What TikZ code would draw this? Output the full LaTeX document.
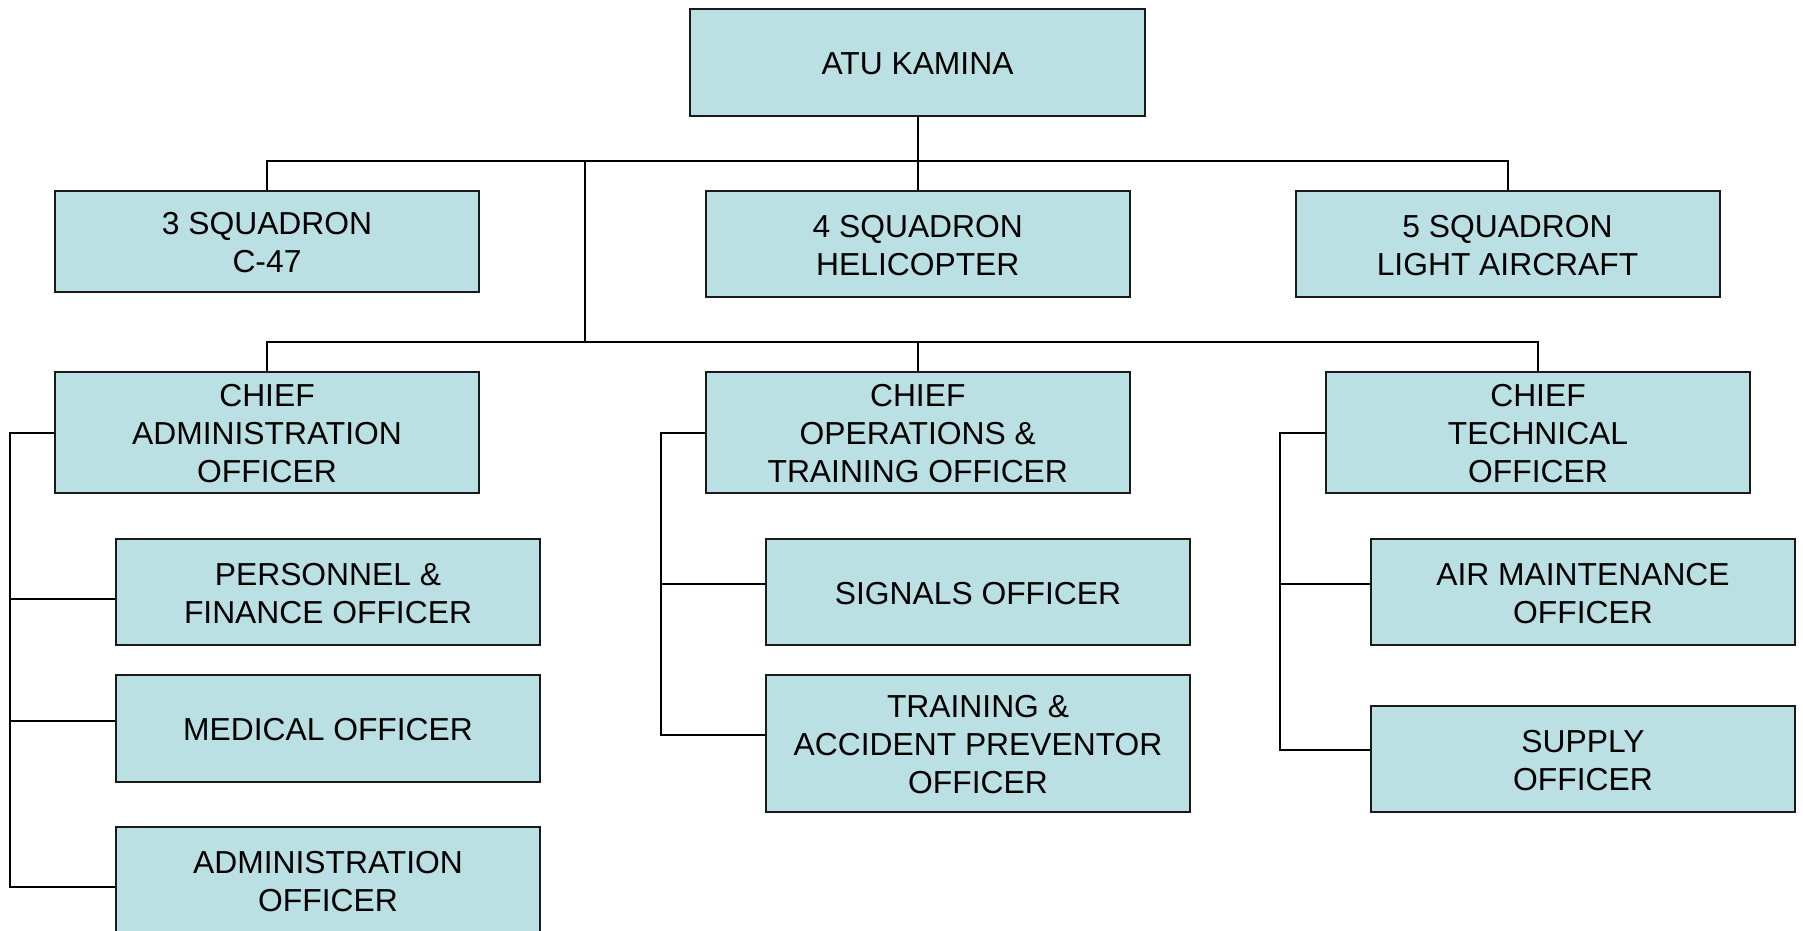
\documentclass[tikz,border=0pt]{standalone}
\usepackage{fontspec}
\setmainfont{Liberation Sans}
\definecolor{boxfill}{RGB}{187,224,227}
\definecolor{boxline}{RGB}{26,26,26}
\newcommand\orgtext[1]{\raisebox{-4.5pt}[\height][\depth]{\begin{tabular}{@{}c@{}}#1\end{tabular}}}
\begin{document}
\begin{tikzpicture}[x=1pt,y=-1pt,
  orgbox/.style={draw=boxline, line width=2pt, fill=boxfill, rectangle, inner sep=0pt,
    minimum width=424pt, text=black,
    font=\fontsize{31.8}{38.3}\selectfont},
  link/.style={draw=black, line width=2pt}]
\clip (0,0) rectangle (1803,930);
\fill[white] (0,0) rectangle (1803,930);

% nodes
\node[orgbox, minimum width=455pt, minimum height=107pt] (atu) at (917.5,62.5) {\orgtext{ATU KAMINA}};
\node[orgbox, minimum height=101pt] (sq3) at (267,241.5) {\orgtext{3 SQUADRON\\C-47}};
\node[orgbox, minimum height=106pt] (sq4) at (917.75,244) {\orgtext{4 SQUADRON\\HELICOPTER}};
\node[orgbox, minimum height=106pt] (sq5) at (1507.5,244) {\orgtext{5 SQUADRON\\LIGHT AIRCRAFT}};
\node[orgbox, minimum height=121pt] (cadm) at (267,432.5) {\orgtext{CHIEF\\ADMINISTRATION\\OFFICER}};
\node[orgbox, minimum height=121pt] (cops) at (917.75,432.5) {\orgtext{CHIEF\\OPERATIONS \&\\TRAINING OFFICER}};
\node[orgbox, minimum height=121pt] (ctech) at (1538,432.5) {\orgtext{CHIEF\\TECHNICAL\\OFFICER}};
\node[orgbox, minimum height=106pt] (pers) at (328,592) {\orgtext{PERSONNEL \&\\FINANCE OFFICER}};
\node[orgbox, minimum height=107pt] (med) at (328,728.5) {\orgtext{MEDICAL OFFICER}};
\node[orgbox, minimum height=107pt] (adm) at (328,880.5) {\orgtext{ADMINISTRATION\\OFFICER}};
\node[orgbox, minimum height=106pt] (sig) at (978,592) {\orgtext{SIGNALS OFFICER}};
\node[orgbox, minimum height=137pt] (train) at (978,743.5) {\orgtext{TRAINING \&\\ACCIDENT PREVENTOR\\OFFICER}};
\node[orgbox, minimum height=106pt] (air) at (1583,592) {\orgtext{AIR MAINTENANCE\\OFFICER}};
\node[orgbox, minimum height=106pt] (sup) at (1583,759) {\orgtext{SUPPLY\\OFFICER}};

% bus coordinates
\coordinate (b1) at (917.5,161);
\coordinate (t1) at (585,161);
\coordinate (t2) at (585,342);
\coordinate (Lspine) at (10,433);
\coordinate (Lpers) at (10,599);
\coordinate (Lmed) at (10,721);
\coordinate (Ladm) at (10,887);
\coordinate (Mspine) at (661,433);
\coordinate (Msig) at (661,584);
\coordinate (Mtrain) at (661,735);
\coordinate (Rspine) at (1280,433);
\coordinate (Rair) at (1280,584);
\coordinate (Rsup) at (1280,750);

% top level
\draw[link] (atu.south) -- (atu.south |- b1);
\draw[link] (sq3.north) |- (sq5.north |- b1) -- (sq5.north);
\draw[link] (sq4.north) -- (sq4.north |- b1);
\draw[link] (t1) -- (t2);
\draw[link] (cadm.north) |- (ctech.north |- t2) -- (ctech.north);
\draw[link] (cops.north) -- (cops.north |- t2);

% left column
\draw[link] (cadm.west |- Lspine) -- (Lspine) -- (Ladm) -- (adm.west |- Ladm);
\draw[link] (Lpers) -- (pers.west |- Lpers);
\draw[link] (Lmed) -- (med.west |- Lmed);

% middle column
\draw[link] (cops.west |- Mspine) -- (Mspine) -- (Mtrain) -- (train.west |- Mtrain);
\draw[link] (Msig) -- (sig.west |- Msig);

% right column
\draw[link] (ctech.west |- Rspine) -- (Rspine) -- (Rsup) -- (sup.west |- Rsup);
\draw[link] (Rair) -- (air.west |- Rair);
\end{tikzpicture}
\end{document}
